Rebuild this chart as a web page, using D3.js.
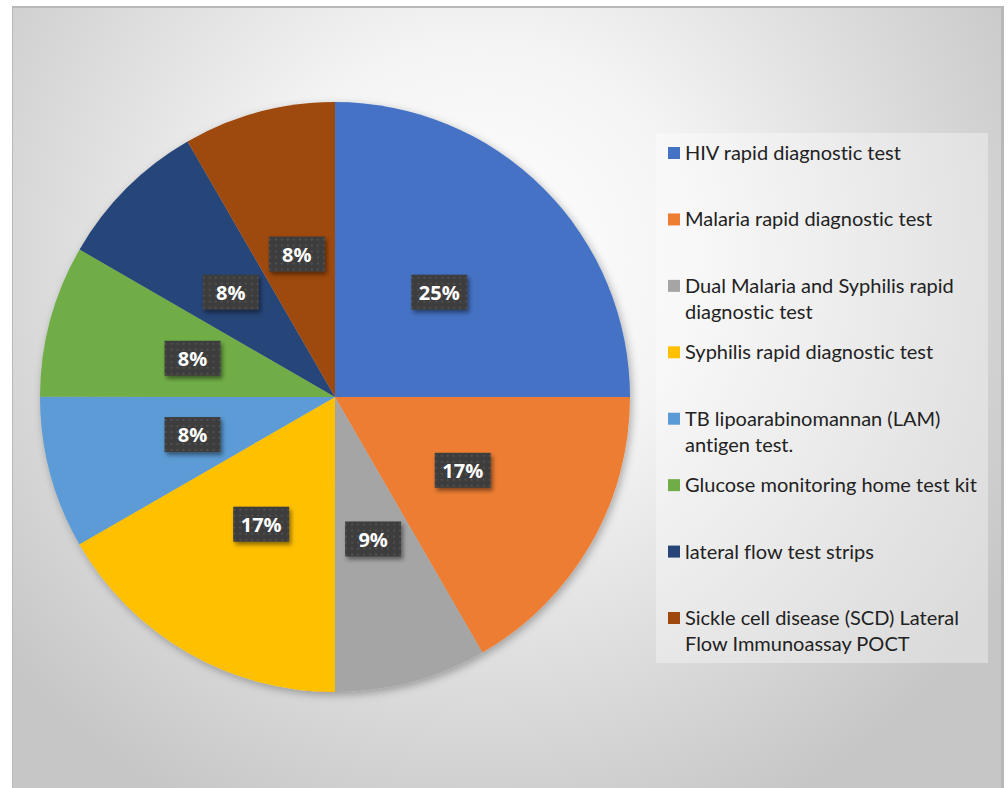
<!DOCTYPE html>
<html><head><meta charset="utf-8">
<script src="https://cdn.jsdelivr.net/npm/d3@7"></script>
<style>html,body{margin:0;padding:0;background:#fff;}svg{display:block;}text{font-variant-ligatures:none;}</style>
</head><body>
<script>
const categories = ["HIV rapid diagnostic test","Malaria rapid diagnostic test","Dual Malaria and Syphilis rapid diagnostic test","Syphilis rapid diagnostic test","TB lipoarabinomannan (LAM) antigen test.","Glucose monitoring home test kit","lateral flow test strips","Sickle cell disease (SCD) Lateral Flow Immunoassay POCT"];
const legendLines = [["HIV rapid diagnostic test"],["Malaria rapid diagnostic test"],["Dual Malaria and Syphilis rapid","diagnostic test"],["Syphilis rapid diagnostic test"],["TB lipoarabinomannan (LAM)","antigen test."],["Glucose monitoring home test kit"],["lateral flow test strips"],["Sickle cell disease (SCD) Lateral","Flow Immunoassay POCT"]];
const values = [25, 16.67, 8.33, 16.67, 8.33, 8.33, 8.33, 8.33];
const pctLabels = ["25%","17%","9%","17%","8%","8%","8%","8%"];
const colors = ["#4472C4","#ED7D31","#A5A5A5","#FFC000","#5B9BD5","#70AD47","#264478","#9E480E"];

const W=1008,H=788;
const svg=d3.select("body").append("svg").attr("width",W).attr("height",H);
const defs=svg.append("defs");
const rg=defs.append("radialGradient").attr("id","bg").attr("gradientUnits","userSpaceOnUse")
  .attr("cx",480).attr("cy",260).attr("r",620);
rg.append("stop").attr("offset","0").attr("stop-color","#ffffff");
rg.append("stop").attr("offset","0.35").attr("stop-color","#f4f4f4");
rg.append("stop").attr("offset","1").attr("stop-color","#c6c6c6");
const sh=defs.append("filter").attr("id","sh").attr("x","-20%").attr("y","-20%").attr("width","140%").attr("height","140%");
sh.append("feDropShadow").attr("dx",2).attr("dy",3).attr("stdDeviation",4).attr("flood-color","#000").attr("flood-opacity",0.3);
const lsh=defs.append("filter").attr("id","lsh").attr("x","-30%").attr("y","-30%").attr("width","160%").attr("height","160%");
lsh.append("feDropShadow").attr("dx",2).attr("dy",3).attr("stdDeviation",2).attr("flood-color","#000").attr("flood-opacity",0.45);
const pat=defs.append("pattern").attr("id","dots").attr("patternUnits","userSpaceOnUse").attr("width",6).attr("height",6);
pat.append("rect").attr("width",6).attr("height",6).attr("fill","#3c3c3c");
pat.append("circle").attr("cx",3).attr("cy",3).attr("r",0.9).attr("fill","#5a5a5a");

// background frame
svg.append("rect").attr("x",12).attr("y",6).attr("width",992).attr("height",782).attr("fill","#b8b8b8");
svg.append("rect").attr("x",13).attr("y",8).attr("width",988).attr("height",780).attr("fill","url(#bg)");

const cx=335,cy=397,r=295;
const g=svg.append("g").attr("transform",`translate(${cx},${cy})`);
const pie=d3.pie().sort(null).value(d=>d)(values);
const arc=d3.arc().innerRadius(0).outerRadius(r);
g.append("g").attr("filter","url(#sh)").selectAll("path").data(pie).join("path")
  .attr("d",arc).attr("fill",(d,i)=>colors[i]);

const lab=g.selectAll("g.lab").data(pie).join("g").attr("class","lab")
  .attr("transform",d=>`translate(${arc.centroid(d)})`);
lab.append("rect").attr("x",-28).attr("y",-18).attr("width",56).attr("height",35)
  .attr("fill","url(#dots)").attr("filter","url(#lsh)");
lab.append("text").attr("text-anchor","middle").attr("dy","0.36em")
  .attr("font-family","'Open Sans',sans-serif").attr("font-weight","bold").attr("font-size",20)
  .attr("fill","#fff").text((d,i)=>pctLabels[i]);

// legend
const lg=svg.append("g");
lg.append("rect").attr("x",656).attr("y",133).attr("width",332).attr("height",530).attr("fill","#ffffff").attr("fill-opacity",0.35);
const legY=d3.scaleLinear().domain([0,7]).range([153,618]);
legendLines.forEach((lines,i)=>{
  const y=legY(i);
  lg.append("rect").attr("x",668).attr("y",y-6).attr("width",12).attr("height",12).attr("fill",colors[i]);
  lines.forEach((t,j)=>{
    lg.append("text").attr("x",685).attr("y",y+j*26).attr("dy","0.35em")
      .attr("font-family","Lato,'Open Sans',sans-serif").attr("font-size",20)
      .attr("fill","#222").text(t);
  });
});
</script>
</body></html>
